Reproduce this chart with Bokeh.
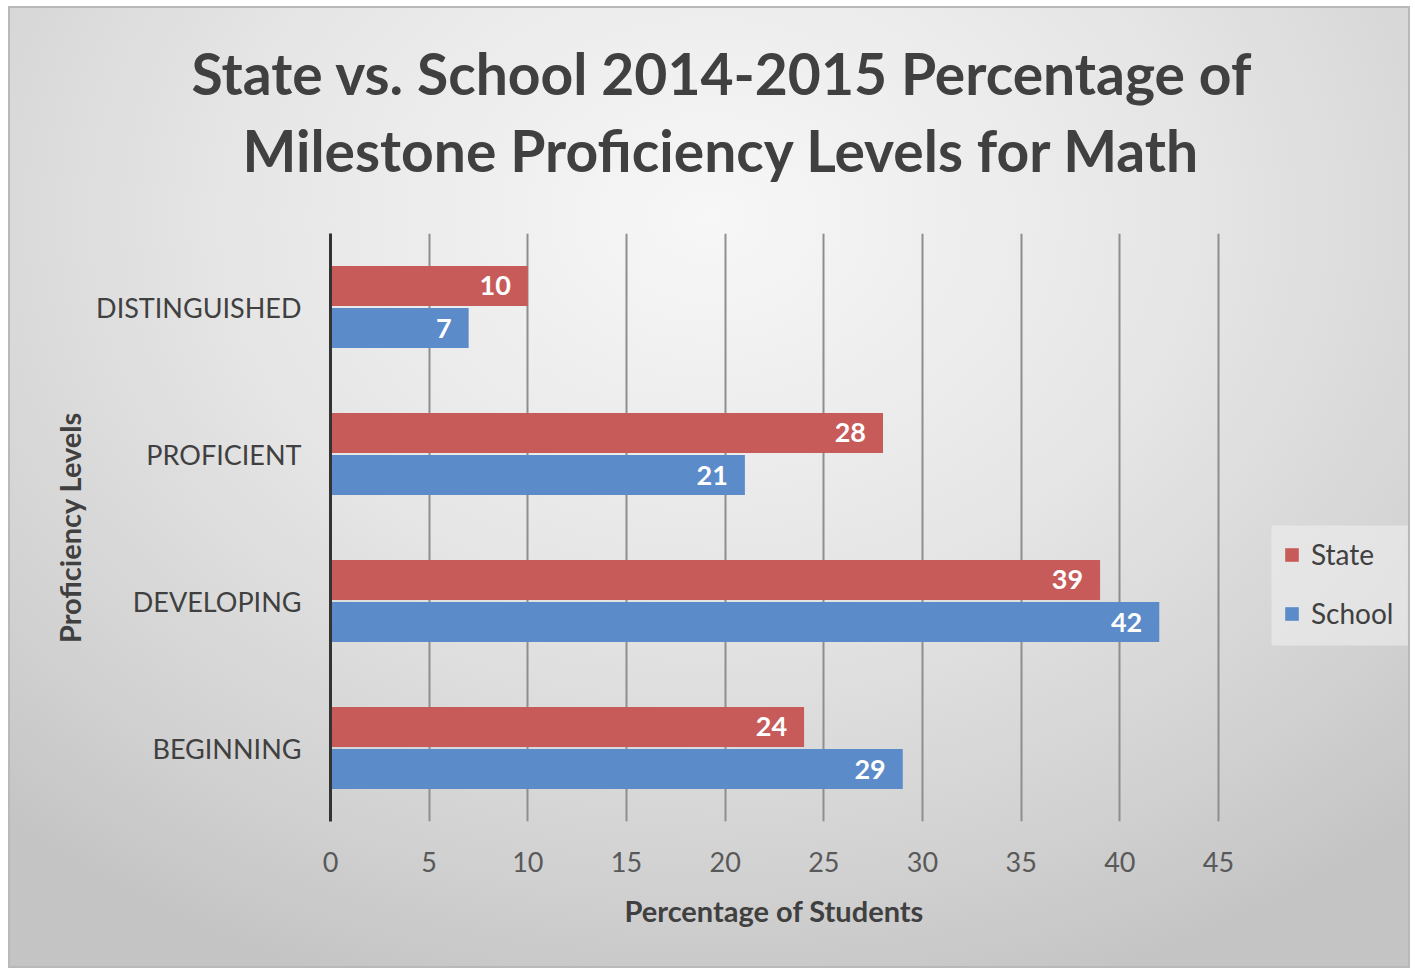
from bokeh.plotting import figure
from bokeh.models import (Range1d, FactorRange, Legend, LegendItem, ColumnDataSource,
                          Title, BoxAnnotation)
from bokeh.transform import dodge
from bokeh.core.properties import value
from bokeh.embed import file_html
from bokeh.resources import INLINE

# ---- data ----
categories = ["BEGINNING", "DEVELOPING", "PROFICIENT", "DISTINGUISHED"]
state = [24, 39, 28, 10]
school = [29, 42, 21, 7]
x_ticks = [0, 5, 10, 15, 20, 25, 30, 35, 40, 45]
title_lines = ["State vs. School 2014-2015 Percentage of",
               "Milestone Proficiency Levels for Math"]
x_title = "Percentage of Students"
y_title = "Proficiency Levels"
series_names = ["State", "School"]

RED = "#C75B5A"
BLUE = "#5B8BC8"
FONT = "Lato"
TXT = "#404040"

src = ColumnDataSource(dict(
    cat=categories,
    state=state,
    school=school,
    state_lbl=[str(v) for v in state],
    school_lbl=[str(v) for v in school],
))

# frame extends to the right edge so the legend (inside the frame) is not clipped;
# the visible axis scale still ends with the 45 gridline
p = figure(width=1402, height=962, output_backend="svg", toolbar_location=None,
           y_range=FactorRange(factors=categories, range_padding=0),
           x_range=Range1d(0, 54.63),
           min_border_left=322, min_border_right=2,
           min_border_top=227, min_border_bottom=147)
p.title.visible = False

p.background_fill_alpha = 0
p.border_fill_alpha = 0
p.outline_line_color = None
p.styles = {
    "margin": "6px 0px 0px 8px",
    "background": "radial-gradient(ellipse 75% 85% at 50% 22%, #F7F7F7 0%, #E6E6E6 45%, #D2D2D2 80%, #C4C4C4 100%)",
    "box-shadow": "inset 0 0 0 2px #B9B9B9",
}

# legend panel background (to the right of the scale)
p.add_layout(BoxAnnotation(left=47.69, right=54.6, bottom=1.197, top=2.014,
                           fill_color="#EEEEEE", fill_alpha=0.6, line_color=None,
                           level="underlay"))

r_state = p.hbar(y=dodge("cat", 0.143, range=p.y_range), right="state", left=0,
                 height=0.272, source=src, fill_color=RED, line_color=None)
r_school = p.hbar(y=dodge("cat", -0.143, range=p.y_range), right="school", left=0,
                  height=0.272, source=src, fill_color=BLUE, line_color=None)

p.text(x="state", y=dodge("cat", 0.143, range=p.y_range), text="state_lbl", source=src,
       text_align="right", text_baseline="middle", x_offset=-17,
       text_color="white", text_font=value(FONT), text_font_style="bold",
       text_font_size="27px")
p.text(x="school", y=dodge("cat", -0.143, range=p.y_range), text="school_lbl", source=src,
       text_align="right", text_baseline="middle", x_offset=-17,
       text_color="white", text_font=value(FONT), text_font_style="bold",
       text_font_size="27px")

# grid
p.ygrid.grid_line_color = None
p.xgrid.grid_line_color = "#8E8E8E"
p.xgrid.grid_line_width = 2
p.xgrid.ticker = x_ticks

# x axis
xa = p.xaxis[0]
xa.ticker = x_ticks
xa.axis_line_color = None
xa.major_tick_line_color = None
xa.minor_tick_line_color = None
xa.major_label_text_font = FONT
xa.major_label_text_font_size = "27px"
xa.major_label_text_color = "#595959"
xa.major_label_standoff = 24

# y axis
ya = p.yaxis[0]
ya.axis_line_color = "#333333"
ya.axis_line_width = 3
ya.major_tick_line_color = None
ya.minor_tick_line_color = None
ya.major_label_text_font = FONT
ya.major_label_text_font_size = "27px"
ya.major_label_text_color = TXT
ya.major_label_standoff = 23
ya.axis_label = y_title
ya.axis_label_text_font = FONT
ya.axis_label_text_font_style = "bold"
ya.axis_label_text_font_size = "29px"
ya.axis_label_text_color = TXT
ya.axis_label_standoff = 6

# x-axis title, centred under the 0..45 scale
p.add_layout(Title(text=x_title, align="left", offset=294, standoff=36,
                   vertical_align="top",
                   text_font=FONT, text_font_style="bold", text_font_size="29px",
                   text_color=TXT), "below")

# chart title: spacer (nearest frame), line 2, line 1
p.add_layout(Title(text=" ", text_font_size="1px", standoff=43), "above")
p.add_layout(Title(text=title_lines[1], align="left", offset=-88, standoff=7,
                   text_font=FONT, text_font_style="bold", text_font_size="57px",
                   text_color=TXT), "above")
p.add_layout(Title(text=title_lines[0], align="left", offset=-139, standoff=7,
                   text_font=FONT, text_font_style="bold", text_font_size="57px",
                   text_color=TXT), "above")

legend = Legend(items=[LegendItem(label=series_names[0], renderers=[r_state]),
                       LegendItem(label=series_names[1], renderers=[r_school])],
                location=(953, 191),
                background_fill_alpha=0, border_line_color=None,
                glyph_width=17, glyph_height=17, label_standoff=11,
                label_text_font=FONT, label_text_font_size="28px",
                label_text_color=TXT, spacing=25, padding=0,
                label_height=30)
p.add_layout(legend, "center")

open("out.html", "w").write(file_html(p, INLINE))
